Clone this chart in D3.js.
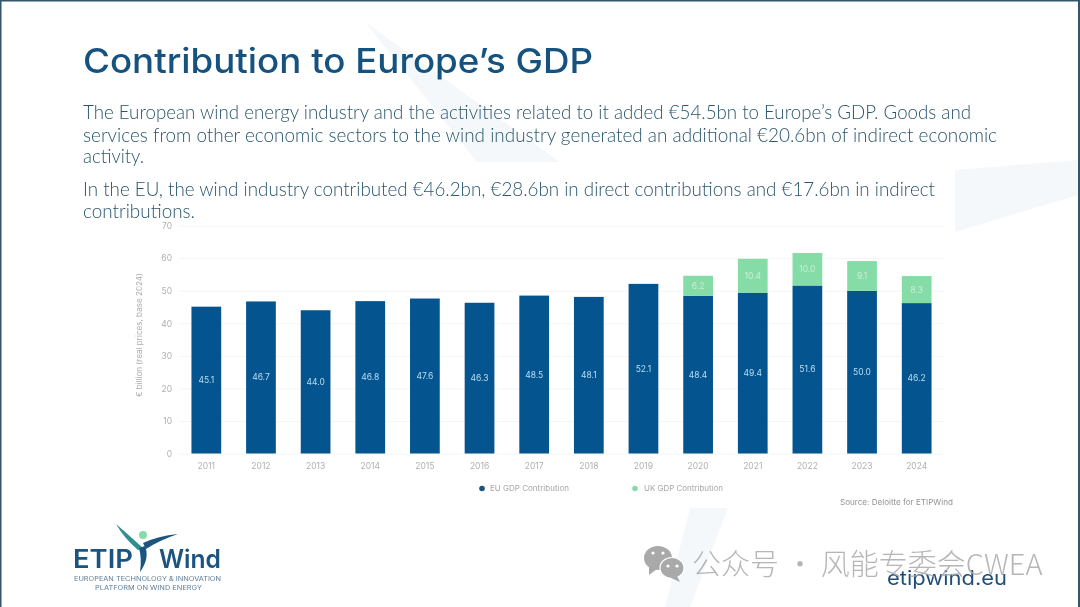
<!DOCTYPE html>
<html><head><meta charset="utf-8">
<script src="https://cdn.jsdelivr.net/npm/d3@7"></script>
<style>
html,body{margin:0;padding:0;background:#fff;overflow:hidden}
svg{display:block;filter:blur(0.35px)}
</style></head><body>
<svg id="c" width="1080" height="607"></svg>
<script>
const years=["2011","2012","2013","2014","2015","2016","2017","2018","2019","2020","2021","2022","2023","2024"];
const euValues=[45.1,46.7,44.0,46.8,47.6,46.3,48.5,48.1,52.1,48.4,49.4,51.6,50.0,46.2];
const ukValues=[null,null,null,null,null,null,null,null,null,6.2,10.4,10.0,9.1,8.3];
const yTicks=[0,10,20,30,40,50,60,70];
const seriesNames=["EU GDP Contribution","UK GDP Contribution"];
const seriesColors=["#04548f","#86dca6"];
const titleText="Contribution to Europe’s GDP";
const bodyLines=[
 ["The European wind energy industry and the activities related to it added €54.5bn to Europe’s GDP. Goods and",119,888],
 ["services from other economic sectors to the wind industry generated an additional €20.6bn of indirect economic",141.5,914],
 ["activity.",163,61],
 ["In the EU, the wind industry contributed €46.2bn, €28.6bn in direct contributions and €17.6bn in indirect",195.5,852],
 ["contributions.",217.5,112]
];
const svg=d3.select("#c");
const W=1080,H=607;
svg.append("rect").attr("width",W).attr("height",H).attr("fill","#fff");
// faint background shapes
const bg=svg.append("g").attr("fill","#f5f8fa");
[[[365,22],[560,162],[477,162]],[[955,170],[1078,160],[1078,195],[955,232]],[[690,508],[728,508],[690,607],[665,607]]]
 .forEach(p=>bg.append("polygon").attr("points",p.join(" ")));
// frame
svg.append("rect").attr("x",0).attr("y",0).attr("width",W).attr("height",1.5).attr("fill","#33566a");
svg.append("rect").attr("x",0).attr("y",0).attr("width",1.5).attr("height",H).attr("fill","#33566a");
svg.append("rect").attr("x",W-2).attr("y",0).attr("width",2).attr("height",H).attr("fill","#33566a");
// heading
svg.append("text").attr("x",83).attr("y",73).attr("font-family","Inter").attr("font-weight",500).attr("font-size",34)
 .attr("fill","#15527f").attr("textLength",510).attr("lengthAdjust","spacingAndGlyphs").text(titleText);
svg.append("g").selectAll("text").data(bodyLines).join("text")
 .attr("x",83).attr("y",d=>d[1]).attr("textLength",d=>d[2]).attr("lengthAdjust","spacingAndGlyphs")
 .attr("font-family","Lato").attr("font-weight",300).attr("font-size",19.5).attr("fill","#2a566c").text(d=>d[0]);
// chart
const x=d3.scaleBand().domain(years).range([179,944]).paddingInner(0.456).paddingOuter(0.228);
const y=d3.scaleLinear().domain([0,70]).range([453.5,225.6]);
const labelFont="Inter";
const yAxis=svg.append("g").attr("transform","translate(179,0)")
 .call(d3.axisLeft(y).tickValues(yTicks).tickSize(-765).tickPadding(7).tickFormat(d3.format("d")));
yAxis.select(".domain").remove();
yAxis.selectAll("line").attr("stroke","#f5f5f5");
yAxis.selectAll("text").attr("fill","#b0b0b0").attr("font-family",labelFont).attr("font-size",8.5);
const xAxis=svg.append("g").attr("transform","translate(0,453.5)")
 .call(d3.axisBottom(x).tickSize(0).tickPadding(9));
xAxis.select(".domain").remove();
xAxis.selectAll("text").attr("fill","#b0b0b0").attr("font-family",labelFont).attr("font-size",8.5);
svg.append("text").attr("transform","translate(139,335) rotate(-90)").attr("text-anchor","middle").attr("dy","0.35em")
 .attr("font-family",labelFont).attr("font-size",7.6).attr("fill","#acacac").attr("textLength",124).attr("lengthAdjust","spacingAndGlyphs").text("€ billion (real prices, base 2024)");
svg.append("g").selectAll("rect").data(years.map((k,i)=>({k,v:euValues[i]}))).join("rect")
 .attr("x",d=>x(d.k)).attr("width",x.bandwidth()).attr("y",d=>y(d.v)).attr("height",d=>y(0)-y(d.v)).attr("fill",seriesColors[0]);
const ukData=years.map((k,i)=>({k,b:euValues[i],v:ukValues[i]})).filter(d=>d.v!=null);
svg.append("g").selectAll("rect").data(ukData).join("rect")
 .attr("x",d=>x(d.k)).attr("width",x.bandwidth()).attr("y",d=>y(d.b+d.v)).attr("height",d=>y(d.b)-y(d.b+d.v)).attr("fill",seriesColors[1]);
const lab=svg.append("g").attr("font-family",labelFont).attr("font-size",8.5).attr("text-anchor","middle");
lab.selectAll(".eu").data(years.map((k,i)=>({k,v:euValues[i]}))).join("text").attr("class","eu")
 .attr("x",d=>x(d.k)+x.bandwidth()/2).attr("y",d=>y(d.v/2)).attr("dy","0.35em").attr("fill","#b9def4").text(d=>d.v.toFixed(1));
lab.selectAll(".uk").data(ukData).join("text").attr("class","uk")
 .attr("x",d=>x(d.k)+x.bandwidth()/2).attr("y",d=>y(d.b+d.v/2)).attr("dy","0.35em").attr("fill","#c8eed6").text(d=>d.v.toFixed(1));
// legend
const leg=[[482,490],[635,644]];
seriesNames.forEach((n,i)=>{
 svg.append("circle").attr("cx",leg[i][0]).attr("cy",488.5).attr("r",2.8).attr("fill",i?seriesColors[1]:"#1f5278");
 svg.append("text").attr("x",leg[i][1]).attr("y",488.5).attr("dy","0.35em").attr("font-family",labelFont).attr("font-size",7.8)
  .attr("fill","#a8a8a8").attr("textLength",79).attr("lengthAdjust","spacingAndGlyphs").text(n);
});
svg.append("text").attr("x",840).attr("y",502).attr("dy","0.35em").attr("font-family",labelFont).attr("font-size",8)
 .attr("fill","#929292").attr("textLength",113).attr("lengthAdjust","spacingAndGlyphs").text("Source: Deloitte for ETIPWind");
// logo
const logo=svg.append("g");
logo.append("path").attr("d","M116,524 Q132,538 143,548 L138,550 Q124,538 116,524Z").attr("fill","#2e8f90");
logo.append("path").attr("d","M178,534 Q158,536 143,543 L146,549 Q160,540 178,534Z").attr("fill","#1c5480");
logo.append("path").attr("d","M145,546 Q150,558 140,572 Q142,558 139,548Z").attr("fill","#1c5480");
logo.append("circle").attr("cx",143).attr("cy",535).attr("r",4).attr("fill","#86dca6");
const logoStyle=(t,fw,fs)=>t.attr("font-family","Inter").attr("font-weight",fw).attr("font-size",fs).attr("lengthAdjust","spacingAndGlyphs");
logoStyle(logo.append("text"),600,25).attr("x",73).attr("y",568).attr("fill","#1c5480").attr("textLength",60).text("ETIP");
logoStyle(logo.append("text"),600,25).attr("x",159).attr("y",568).attr("fill","#1c5480").attr("textLength",62).text("Wind");
logoStyle(logo.append("text"),400,6.6).attr("x",74).attr("y",580.5).attr("fill","#5c7d96").attr("textLength",147).text("EUROPEAN TECHNOLOGY & INNOVATION");
logoStyle(logo.append("text"),400,6.6).attr("x",95).attr("y",589.5).attr("fill","#5c7d96").attr("textLength",107).text("PLATFORM ON WIND ENERGY");
svg.append("text").attr("x",887).attr("y",585).attr("font-family","Inter").attr("font-size",19.5).attr("fill","#1f4f78").attr("textLength",120).attr("lengthAdjust","spacingAndGlyphs").text("etipwind.eu");
// overlaid mark
const wm=svg.append("g");
wm.append("ellipse").attr("cx",658).attr("cy",558).attr("rx",14).attr("ry",12).attr("fill","#a9a9a9");
wm.append("path").attr("d","M649,566 L649,575 L657,569Z").attr("fill","#a9a9a9");
wm.append("ellipse").attr("cx",672).attr("cy",568).attr("rx",12).attr("ry",10.5).attr("fill","#a9a9a9").attr("stroke","#fff").attr("stroke-width",1.2);
wm.append("path").attr("d","M677,576 L680,582 L671,578Z").attr("fill","#a9a9a9");
[[653,553],[663,553],[668,566],[677,566]].forEach(p=>wm.append("circle").attr("cx",p[0]).attr("cy",p[1]).attr("r",1.6).attr("fill","#fff"));
const wmText=wm.append("text").attr("y",575).attr("font-family","'Noto Sans CJK SC'").attr("font-weight",300).attr("font-size",29).attr("fill","#a9a9a9").attr("fill-opacity",0.85);
wmText.append("tspan").attr("x",692).text("公众号 · 风能专委会CWEA");
</script>
</body></html>
